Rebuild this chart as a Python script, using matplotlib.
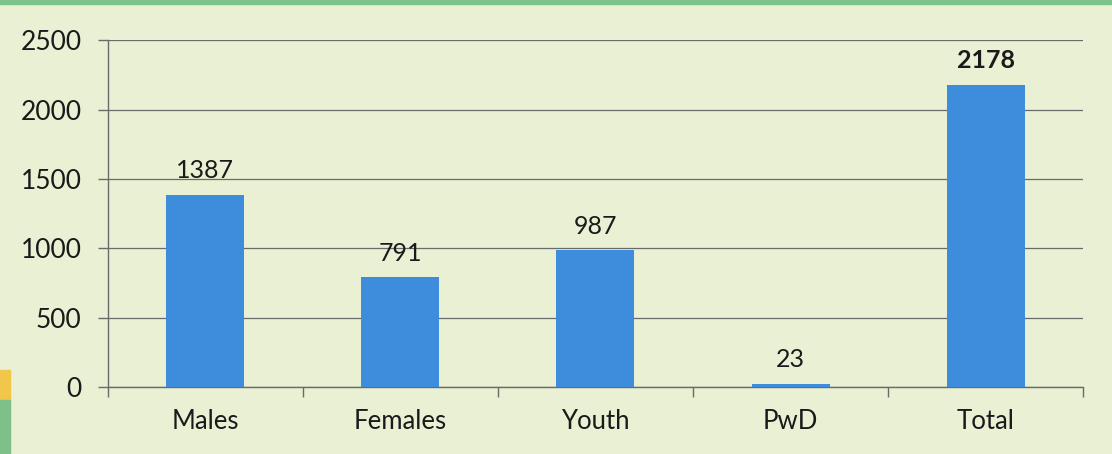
import numpy as np
import matplotlib.pyplot as plt
from matplotlib.patches import Rectangle

categories = ['Males', 'Females', 'Youth', 'PwD', 'Total']
values = [1387, 791, 987, 23, 2178]
bold_labels = [False, False, False, False, True]
yticks = [0, 500, 1000, 1500, 2000, 2500]

plt.rcParams['font.family'] = ['Lato', 'DejaVu Sans']

bg = '#eaf0d3'
bar_color = '#3e8ddd'

fig = plt.figure(figsize=(11.12, 4.54), dpi=100, facecolor=bg)
ax = fig.add_axes([0.097, 0.1476, 0.877, 0.764])
ax.set_facecolor(bg)

# decorative strips from the scanned page
fig.patches.append(Rectangle((0, 0.992), 1, 0.008, transform=fig.transFigure,
                             color='#7cc389', zorder=0))
fig.patches.append(Rectangle((0, 0.12), 0.009, 0.065, transform=fig.transFigure,
                             color='#f2c64a', zorder=0))
fig.patches.append(Rectangle((0, 0.0), 0.009, 0.12, transform=fig.transFigure,
                             color='#7fbf8a', zorder=0))

x = np.arange(len(categories))
bars = ax.bar(x, values, width=0.4, color=bar_color, zorder=3)

for xi, v, b in zip(x, values, bold_labels):
    ax.text(xi, v + 90, str(v), ha='center', va='bottom', fontsize=18,
            fontweight='bold' if b else 'normal', color='#1a1a1a')

ax.set_xlim(-0.5, len(categories) - 0.5)
ax.set_ylim(0, 2500)
ax.set_yticks(yticks)
ax.set_yticklabels([str(t) for t in yticks], fontsize=19, color='#1a1a1a')
ax.yaxis.grid(True, color='#6a6a6a', linewidth=0.9, zorder=0)
ax.set_axisbelow(True)

# category labels centred, ticks at the slot boundaries
ax.set_xticks(np.arange(-0.5, len(categories)))
ax.set_xticklabels([])
ax.set_xticks(x, minor=True)
ax.set_xticklabels(categories, minor=True, fontsize=18.5, color='#1a1a1a')
ax.tick_params(axis='x', which='major', length=7, width=1, color='#6a6a6a')
ax.tick_params(axis='x', which='minor', length=0, pad=16)
ax.tick_params(axis='y', length=7, width=1, color='#6a6a6a', pad=12)

for s in ['top', 'right']:
    ax.spines[s].set_visible(False)
for s in ['left', 'bottom']:
    ax.spines[s].set_color('#6a6a6a')
    ax.spines[s].set_linewidth(1)

fig.savefig('out.png', dpi=100, facecolor=bg)
